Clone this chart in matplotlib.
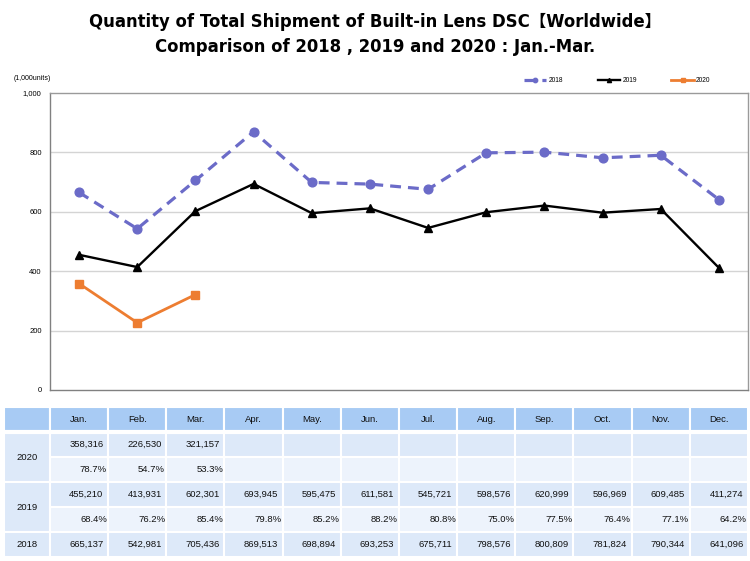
import matplotlib
matplotlib.use("Agg")
import matplotlib.pyplot as plt
from matplotlib.patches import Rectangle

months = ['Jan.', 'Feb.', 'Mar.', 'Apr.', 'May.', 'Jun.', 'Jul.', 'Aug.',
          'Sep.', 'Oct.', 'Nov.', 'Dec.']
v2018 = [665137, 542981, 705436, 869513, 698894, 693253, 675711, 798576,
         800809, 781824, 790344, 641096]
v2019 = [455210, 413931, 602301, 693945, 595475, 611581, 545721, 598576,
         620999, 596969, 609485, 411274]
v2020 = [358316, 226530, 321157]
r2019 = [68.4, 76.2, 85.4, 79.8, 85.2, 88.2, 80.8, 75.0, 77.5, 76.4, 77.1, 64.2]
r2020 = [78.7, 54.7, 53.3]
yticks = [0, 200, 400, 600, 800, 1000]

c2018 = '#6b6bc8'
c2019 = 'black'
c2020 = '#ed7d31'
hdr_col = '#a8cbf4'
val_col = '#dde9f9'
pct_col = '#edf3fc'

fig = plt.figure(figsize=(7.5, 5.61), dpi=100)
fig.patch.set_facecolor('white')

title_font = ['DejaVu Sans', 'Noto Sans CJK JP']
fig.text(0.5, 0.961, 'Quantity of Total Shipment of Built-in Lens DSC【Worldwide】',
         ha='center', va='center', fontsize=11.9, fontweight='bold', family=title_font)
fig.text(0.5, 0.916, 'Comparison of 2018 , 2019 and 2020 : Jan.-Mar.',
         ha='center', va='center', fontsize=11.9, fontweight='bold', family=title_font)

# line chart
ax = fig.add_axes([50/750, 171/561, 698/750, 297/561])
x = list(range(len(months)))
ax.plot(x, [v/1000 for v in v2018], color=c2018, lw=2.3, ls=(0, (3.4, 2.2)),
        marker='o', ms=6.3, label='2018', zorder=3)
ax.plot(x, [v/1000 for v in v2019], color=c2019, lw=1.7,
        marker='^', ms=6, label='2019', zorder=4)
ax.plot(x[:len(v2020)], [v/1000 for v in v2020], color=c2020, lw=2,
        marker='s', ms=6, label='2020', zorder=5)
ax.set_xlim(-0.5, 11.5)
ax.set_ylim(0, 1000)
ax.set_yticks(yticks)
ax.set_yticklabels([f'{t:,}' for t in yticks], fontsize=5.5, family='Liberation Sans')
ax.set_xticks([])
ax.tick_params(axis='y', length=0, pad=6)
for yv in yticks[1:-1]:
    ax.axhline(yv, color='#d4d4d4', lw=1, zorder=1)
for s in ax.spines.values():
    s.set_color('#9a9a9a')
    s.set_linewidth(1)
ax.spines['left'].set_color('#808080')
ax.spines['bottom'].set_color('#808080')
fig.text(14/750, 1 - 79/561, '(1,000units)', fontsize=5, va='center',
         family='Liberation Sans')
leg = ax.legend(loc='lower right', bbox_to_anchor=(0.955, 1.01), ncol=3, frameon=False,
                handlelength=3.4, columnspacing=5.2, handletextpad=0.3,
                markerscale=0.5, prop={'family': 'Liberation Sans', 'size': 4.8})

# data table
tx = fig.add_axes([4/750, 4/561, 744/750, 150/561])
tx.set_xlim(-0.5 - 46/58.17, 11.5)
tx.set_ylim(6, 0)
tx.axis('off')
lab_x0 = -0.5 - 46/58.17
lab_w = 46/58.17
tf = dict(fontsize=6.8, family='Liberation Sans', va='center', color='#111111')


def cell(x0, y0, w, h, fc):
    tx.add_patch(Rectangle((x0, y0), w, h, facecolor=fc, edgecolor='white', lw=1.5))


# header row
cell(lab_x0, 0, lab_w, 1, hdr_col)
for i, m in enumerate(months):
    cell(i - 0.5, 0, 1, 1, hdr_col)
    tx.text(i, 0.5, m, ha='center', **tf)
tx.axhline(1, color='white', lw=3)

rows = [('2020', v2020, r2020, 1), ('2019', v2019, r2019, 3)]
for name, vals, rats, r0 in rows:
    cell(lab_x0, r0, lab_w, 2, val_col)
    tx.text(lab_x0 + lab_w/2, r0 + 1, name, ha='center', **tf)
    for i in range(len(months)):
        cell(i - 0.5, r0, 1, 1, val_col)
        cell(i - 0.5, r0 + 1, 1, 1, pct_col)
        if i < len(vals):
            tx.text(i + 0.42, r0 + 0.5, f'{vals[i]:,}', ha='right', **tf)
            tx.text(i + 0.48, r0 + 1.5, f'{rats[i]:.1f}%', ha='right', **tf)

cell(lab_x0, 5, lab_w, 1, val_col)
tx.text(lab_x0 + lab_w/2, 5.5, '2018', ha='center', **tf)
for i in range(len(months)):
    cell(i - 0.5, 5, 1, 1, val_col)
    tx.text(i + 0.42, 5.5, f'{v2018[i]:,}', ha='right', **tf)

fig.savefig('out.png', dpi=100)
